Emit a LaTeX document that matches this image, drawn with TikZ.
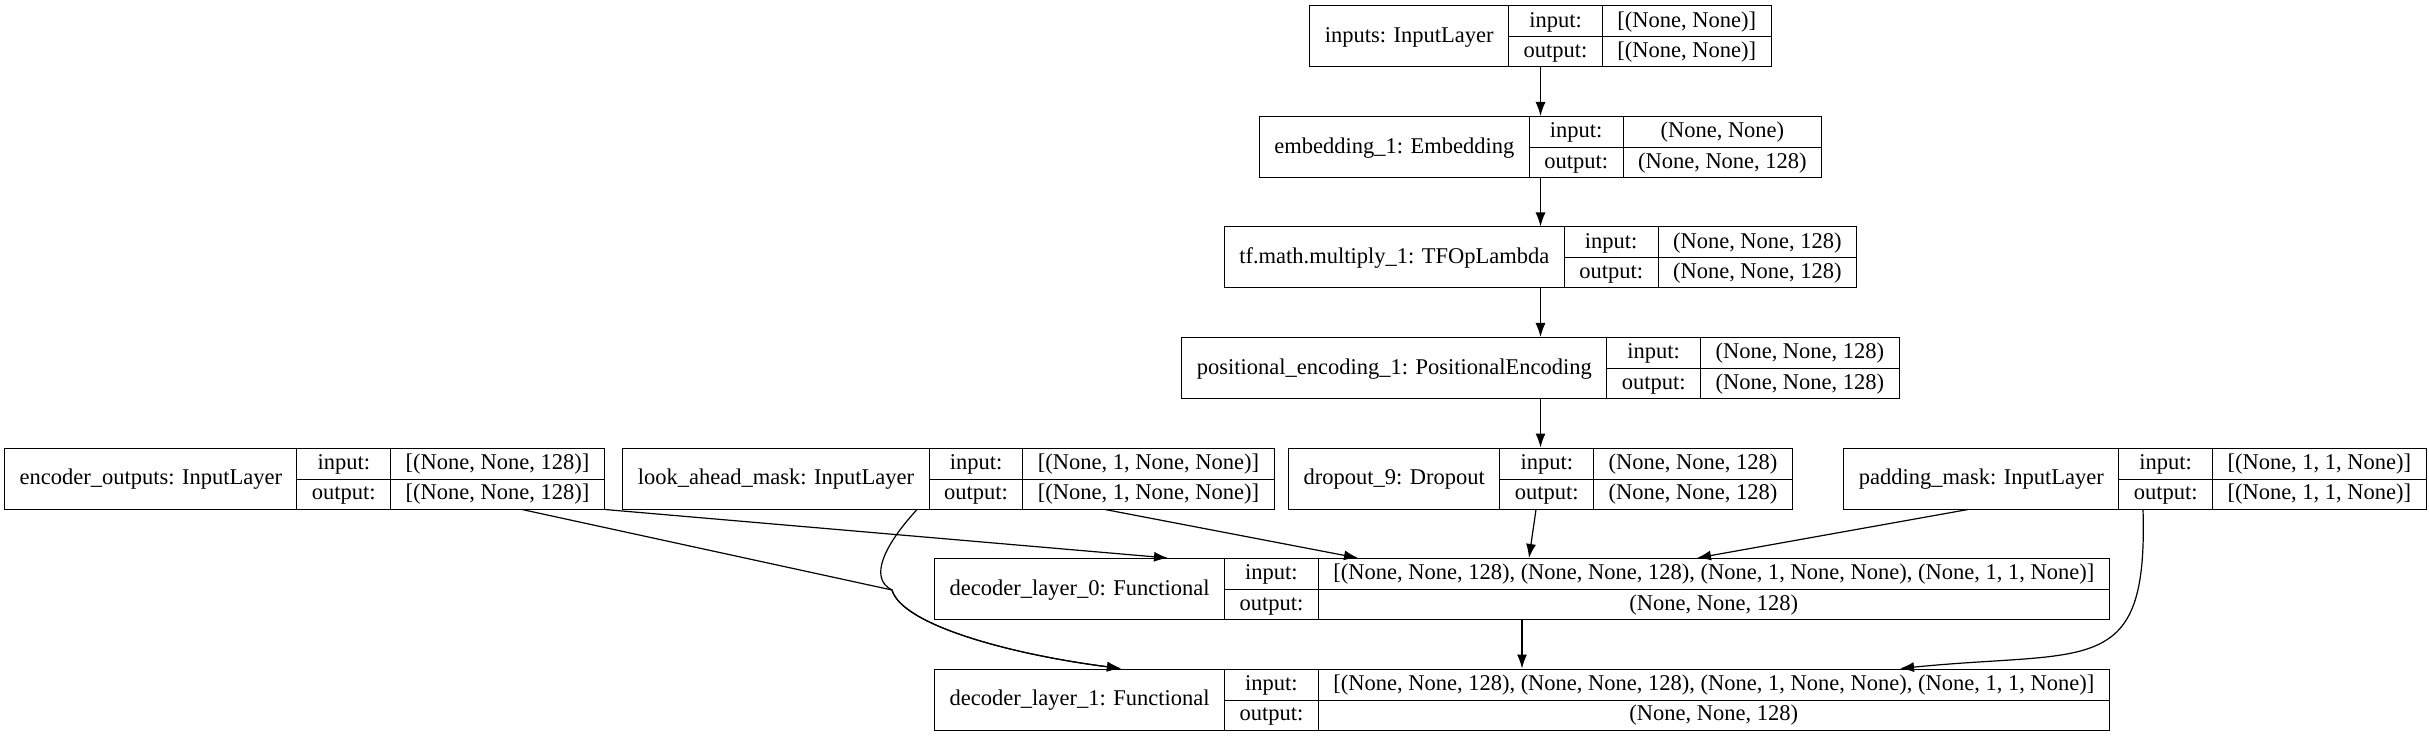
\documentclass[tikz,border=0pt]{standalone}
\usepackage{fontspec}
\setmainfont{Liberation Serif}
\usepackage{multirow}
\usetikzlibrary{positioning,arrows.meta}

\setlength{\tabcolsep}{7.5pt}
\setlength{\arrayrulewidth}{0.5pt}

\newcommand{\layerrec}[3]{%
  \begin{tabular}{c|c|c}
    \multirow{2}{*}{#1} & input: & #2 \\ \cline{2-3}
     & output: & #3
  \end{tabular}}

\begin{document}
\begin{tikzpicture}[x=0.5pt, y=-0.5pt, node distance=55.25pt,
    block/.style={rectangle, draw, line width=0.5pt, inner sep=0pt, font=\fontsize{11.25}{15.25}\selectfont},
    line/.style={draw, line width=0.6pt, -{Latex[length=7pt, width=5pt]}}]

    \useasboundingbox (0,0) rectangle (2429,737);

    \node [block] (inputs) at (1540.5,36.5) {\layerrec{inputs: InputLayer}{[(None, None)]}{[(None, None)]}};
    \node [block, below of=inputs] (embed) {\layerrec{embedding\_1: Embedding}{(None, None)}{(None, None, 128)}};
    \node [block, below of=embed] (mult) {\layerrec{tf.math.multiply\_1: TFOpLambda}{(None, None, 128)}{(None, None, 128)}};
    \node [block, below of=mult] (posenc) {\layerrec{positional\_encoding\_1: PositionalEncoding}{(None, None, 128)}{(None, None, 128)}};
    \node [block, below of=posenc] (drop) {\layerrec{dropout\_9: Dropout}{(None, None, 128)}{(None, None, 128)}};
    \node [block, left of=drop, node distance=296pt] (look) {\layerrec{look\_ahead\_mask: InputLayer}{[(None, 1, None, None)]}{[(None, 1, None, None)]}};
    \node [block, left of=look, node distance=322pt] (enc) {\layerrec{encoder\_outputs: InputLayer}{[(None, None, 128)]}{[(None, None, 128)]}};
    \node [block, right of=drop, node distance=297.25pt] (pad) {\layerrec{padding\_mask: InputLayer}{[(None, 1, 1, None)]}{[(None, 1, 1, None)]}};
    \node [block, below of=drop, xshift=-9.25pt] (dec0) {\layerrec{decoder\_layer\_0: Functional}{[(None, None, 128), (None, None, 128), (None, 1, None, None), (None, 1, 1, None)]}{(None, None, 128)}};
    \node [block, below of=dec0] (dec1) {\layerrec{decoder\_layer\_1: Functional}{[(None, None, 128), (None, None, 128), (None, 1, None, None), (None, 1, 1, None)]}{(None, None, 128)}};

    \coordinate (jn) at (892,590);

    \path [line] (inputs) -- (embed);
    \path [line] (embed) -- (mult);
    \path [line] (mult) -- (posenc);
    \path [line] (posenc) -- (drop);
    \path [line] (enc.south east) -- ([shift={(-354,0)}]dec0.north);
    \path [line] ([shift={(217.5,0)}]enc.south) -- (jn) .. controls +(10,35) and +(-110,-14) .. ([shift={(-401,0)}]dec1.north);
    \path [line] ([shift={(-31.5,0)}]look.south) .. controls +(-32,35) and +(-24,-12) .. (jn) .. controls +(10,35) and +(-110,-14) .. ([shift={(-401,0)}]dec1.north);
    \path [line] ([shift={(156.5,0)}]look.south) -- ([shift={(-164,0)}]dec0.north);
    \path [line] ([shift={(-4.5,0)}]drop.south) -- ([shift={(7,0)}]dec0.north);
    \path [line] ([shift={(-167,0)}]pad.south) -- ([shift={(175,0)}]dec0.north);
    \path [line] ([shift={(8,0)}]pad.south) .. controls +(5,170) and +(190,-19) .. ([shift={(378,0)}]dec1.north);
    \path [line] (dec0) -- (dec1);
\end{tikzpicture}
\end{document}
